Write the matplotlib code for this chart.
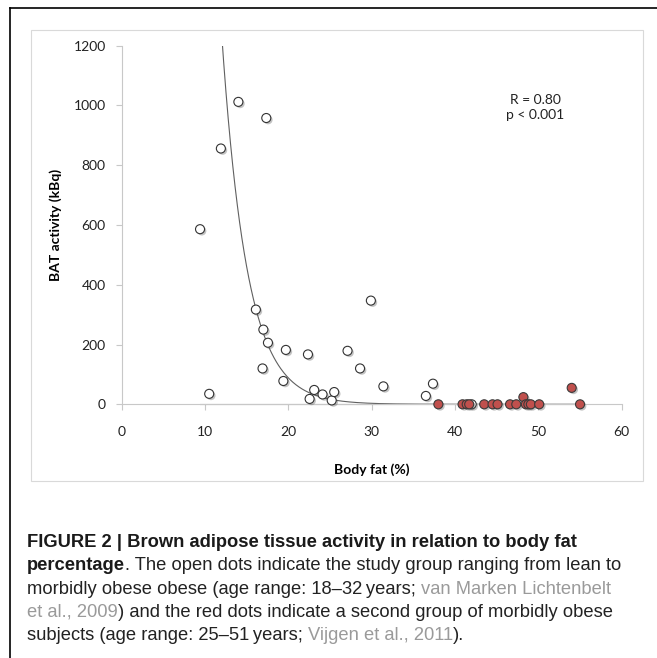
import matplotlib.pyplot as plt
import matplotlib.patheffects as pe
import numpy as np
from matplotlib.lines import Line2D
from matplotlib.patches import Rectangle
from matplotlib.transforms import Bbox, TransformedBbox

# open dots: study group, lean to morbidly obese
lean_fat = [9.4, 10.5, 11.9, 14.0, 17.35, 16.1, 17.0, 17.55, 16.9, 19.4, 19.7, 22.35,
            22.55, 23.1, 24.1, 25.2, 25.5, 27.1, 28.6, 29.9, 31.4, 36.5, 37.35, 42.0]
lean_bat = [586, 35, 856, 1012, 958, 317, 250, 206, 120, 78, 182, 167,
            18, 48, 33, 13, 41, 179, 120, 347, 60, 28, 69, 0]

# red dots: second group of morbidly obese subjects
obese_fat = [38.0, 40.9, 41.4, 41.7, 43.5, 44.5, 45.1, 46.6, 47.35, 48.2, 48.5, 48.8,
             49.1, 50.1, 54.0, 55.0]
obese_bat = [0, 0, 0, 0, 0, 0, 0, 0, 0, 24, 0, 0, 0, 0, 55, 0]

# exponential trendline  y = a * exp(-b * x)
fit_a = 64900
fit_b = 0.330

x_ticks = [0, 10, 20, 30, 40, 50, 60]
y_ticks = [0, 200, 400, 600, 800, 1000, 1200]

caption_lines = [
    [("FIGURE 2 | Brown adipose tissue activity in relation to body fat", "bold")],
    [("percentage", "bold"), (". The open dots indicate the study group ranging from lean to", "reg")],
    [("morbidly obese obese (age range: 18\u201332\u2009years; ", "reg"), ("van Marken Lichtenbelt", "ref")],
    [("et al., 2009", "ref"), (") and the red dots indicate a second group of morbidly obese", "reg")],
    [("subjects (age range: 25\u201351\u2009years; ", "reg"), ("Vijgen et al., 2011", "ref"), (").", "reg")],
]

W, H = 657, 658
fig = plt.figure(figsize=(W / 100, H / 100), dpi=100)

chart_font = "Lato"
grey = "#c8c8c8"

ax = fig.add_axes([121.7 / W, 1 - 404.3 / H, 500 / W, 358.6 / H])
ax.set_xlim(0, 60)
ax.set_ylim(0, 1200)
ax.set_xticks(x_ticks)
ax.set_yticks(y_ticks)
for side in ["top", "right"]:
    ax.spines[side].set_visible(False)
for side in ["left", "bottom"]:
    ax.spines[side].set_color(grey)
    ax.spines[side].set_linewidth(0.8)
ax.tick_params(direction="out", length=4.5, width=0.8, color=grey, labelsize=10,
               labelcolor="#222222")
ax.tick_params(axis="x", pad=11)
ax.tick_params(axis="y", pad=7)
for lab in ax.get_xticklabels() + ax.get_yticklabels():
    lab.set_family(chart_font)

ax.set_xlabel("Body fat (%)", family=chart_font, fontweight="bold", fontsize=10)
ax.set_ylabel("BAT activity (kBq)", family=chart_font, fontweight="bold", fontsize=10)
ax.xaxis.set_label_coords(0.5, -0.164)
ax.yaxis.set_label_coords(-0.12, 0.5)

# trendline
xs = np.linspace(min(lean_fat), max(obese_fat), 500)
curve, = ax.plot(xs, fit_a * np.exp(-fit_b * xs), color="#606060", lw=0.8, zorder=2)
curve.set_clip_box(TransformedBbox(Bbox([[0, -0.05], [1, 1]]), ax.transAxes))
ax.plot([min(lean_fat), max(obese_fat)], [0, 0], color="#8a8a8a", lw=0.8,
        zorder=2, clip_on=False)

shadow = [pe.SimplePatchShadow(offset=(1.3, -1.3), shadow_rgbFace="#555555", alpha=0.35),
          pe.Normal()]
ax.plot(lean_fat, lean_bat, ls="none", marker="o", ms=6.5, mfc="white", mec="#333333",
        mew=0.8, clip_on=False, zorder=3, path_effects=shadow)
ax.plot(obese_fat, obese_bat, ls="none", marker="o", ms=6.5, mfc="#c0504d", mec="#3a3a3a",
        mew=0.8, clip_on=False, zorder=4, path_effects=shadow)

ax.text(49.6, 993, "R = 0.80\np < 0.001", ha="center", va="center", family=chart_font,
        fontsize=10, color="#222222", linespacing=1.35)

# light chart-area border and the black figure frame
fig.add_artist(Rectangle((31 / W, 1 - 481 / H), (643 - 31) / W, (481 - 30) / H,
                         transform=fig.transFigure, fill=False, ec="#d9d9d9", lw=0.8))
fig.add_artist(Line2D([9.5 / W, 1], [1 - 8 / H, 1 - 8 / H], transform=fig.transFigure,
                      color="black", lw=1.2))
fig.add_artist(Line2D([9.5 / W, 9.5 / W], [0, 1 - 8 / H], transform=fig.transFigure,
                      color="black", lw=1.2))

# caption, pieces chained one after another
cax = fig.add_axes([0, 0, 1, 1])
cax.axis("off")
cap_family = "Liberation Sans"
styles = {
    "bold": dict(family=cap_family, fontweight="bold", color="#1a1a1a"),
    "reg": dict(family=cap_family, fontweight="normal", color="#222222"),
    "ref": dict(family=cap_family, fontweight="normal", color="#9a9a9a"),
}
cap_size = 13.2
first_bottom = 551
for i, line in enumerate(caption_lines):
    yb = 1 - (first_bottom + i * 23.3) / H
    prev = None
    for txt, st in line:
        if prev is None:
            prev = cax.text(27 / W, yb, txt, ha="left", va="bottom", fontsize=cap_size,
                            transform=cax.transAxes, **styles[st])
        else:
            prev = cax.annotate(txt, xy=(1, 0), xycoords=prev, ha="left", va="bottom",
                                fontsize=cap_size, **styles[st])

fig.savefig("out.png", dpi=100)
